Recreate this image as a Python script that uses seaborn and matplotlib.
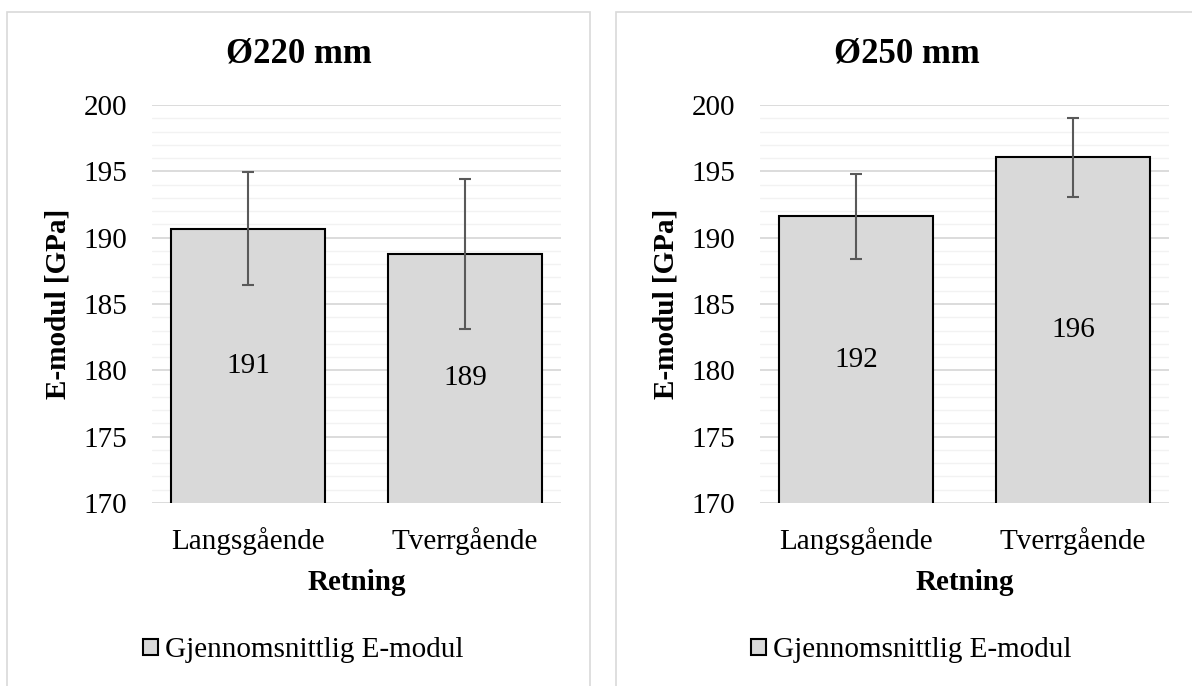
import matplotlib
matplotlib.use("Agg")
import matplotlib.pyplot as plt
import seaborn as sns
import pandas as pd
from matplotlib.patches import Rectangle

# values
categories = ["Langsgående", "Tverrgående"]
titles = ["Ø220 mm", "Ø250 mm"]
e_220 = [190.68, 188.78]
err_220 = [4.27, 5.66]
e_250 = [191.62, 196.05]
err_250 = [3.20, 2.95]

sns.set_theme(style="white")
plt.rcParams["font.family"] = ["Liberation Serif", "DejaVu Serif"]
plt.rcParams["text.color"] = "black"

W, H = 1192, 686
fig = plt.figure(figsize=(W / 100, H / 100), dpi=100)

# panel frames (Excel chart areas)
fig.add_artist(Rectangle((7 / W, -0.05), 583 / W, 1.05 - 12 / H, transform=fig.transFigure,
                         fill=False, edgecolor="#D9D9D9", lw=1.2))
fig.add_artist(Rectangle((616 / W, -0.05), 0.6, 1.05 - 12 / H, transform=fig.transFigure,
                         fill=False, edgecolor="#D9D9D9", lw=1.2))

panels = [(e_220, err_220, 152, 299), (e_250, err_250, 760, 907)]
fs = 21

for (vals, errs, x0, tx), title in zip(panels, titles):
    ax = fig.add_axes([x0 / W, 1 - 503 / H, 409 / W, 398 / H])
    df = pd.DataFrame({"Retning": categories, "E": vals})
    sns.barplot(data=df, x="Retning", y="E", ax=ax, color="#D9D9D9", saturation=1,
                edgecolor="black", linewidth=1.5, width=0.714, errorbar=None,
                label="Gjennomsnittlig E-modul", zorder=3)
    ax.bar_label(ax.containers[0], labels=[f"{v:.0f}" for v in vals],
                 label_type="center", fontsize=fs, color="black", zorder=5)
    ax.errorbar(range(len(vals)), vals, yerr=errs, fmt="none", ecolor="#595959",
                elinewidth=1.5, capsize=4.5, capthick=1.5, zorder=4)

    ax.set_ylim(170, 200)
    ax.set_yticks(range(170, 201, 5))
    ax.set_yticks(range(170, 201), minor=True)
    ax.grid(which="major", axis="y", color="#D9D9D9", lw=1.3)
    ax.grid(which="minor", axis="y", color="#F2F2F2", lw=1.0)
    ax.set_axisbelow(True)
    sns.despine(ax=ax, left=True, bottom=True)
    ax.tick_params(axis="y", which="both", length=0, labelsize=fs, pad=18, colors="black")
    ax.tick_params(axis="x", length=0, labelsize=fs, pad=17, colors="black")

    ax.set_xlabel("Retning", fontsize=fs, fontweight="bold", color="black")
    ax.xaxis.set_label_coords(0.5, -0.2)
    ax.xaxis.label.set_va("center")
    ax.set_ylabel("E-modul [GPa]", fontsize=fs, fontweight="bold", color="black")
    ax.yaxis.label.set_va("center")
    ax.yaxis.set_label_coords(-0.23, 0.5)

    leg = ax.legend(loc="center", bbox_to_anchor=(0.37, -0.37), frameon=False, fontsize=fs,
                    handlelength=0.5, handleheight=0.5, handletextpad=0.25)
    for t in leg.get_texts():
        t.set_color("black")

    fig.text(tx / W, 1 - 54 / H, title, ha="center", va="center", fontsize=25,
             fontweight="bold", color="black")

fig.savefig("out.png", dpi=100, facecolor="white")
